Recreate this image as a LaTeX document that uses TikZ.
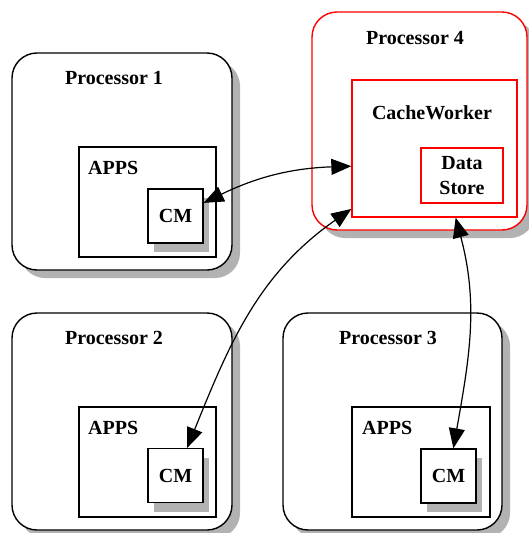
\documentclass[tikz,border=0pt]{standalone}
\usepackage{fontspec}
\setmainfont{Liberation Serif}
\usetikzlibrary{shadows,arrows.meta}
\begin{document}
\begin{tikzpicture}[x=1pt,y=-1pt,
  proc/.style={draw=black, line width=1.4pt, fill=white, rounded corners=25pt,
    drop shadow={shadow xshift=8pt, shadow yshift=-8pt, fill=black!30, opacity=1},
    inner sep=0pt, minimum width=220pt, minimum height=217pt},
  proc4/.style={proc, draw=red},
  apps/.style={draw=black, line width=1.3pt, fill=white, inner sep=0pt,
    minimum width=137pt, minimum height=110pt},
  cmbox/.style={draw=black, line width=1.3pt, fill=white, inner sep=0pt,
    minimum width=55pt, minimum height=54pt,
    drop shadow={shadow xshift=6pt, shadow yshift=-9pt, fill=black!30, opacity=1},
    font=\fontsize{20}{23}\selectfont\bfseries},
  redbox/.style={draw=red, line width=1.3pt, fill=white, inner sep=0pt},
  lbl/.style={font=\fontsize{20}{23}\selectfont\bfseries, inner sep=0pt},
  link/.style={line width=1.2pt, {Triangle[length=20pt,width=16pt]}-{Triangle[length=20pt,width=16pt]}}
]
\useasboundingbox (0,0) rectangle (528,533);
\fill[white] (0,0) rectangle (528,533);

% processors
\node[proc] (p1) at (122,161.5) {};
\node[proc] (p2) at (122,421.5) {};
\node[proc, minimum width=219pt] (p3) at (392.5,421.5) {};
\node[proc4, minimum width=215pt, minimum height=218pt] (p4) at (419.5,121) {};

\node[lbl] (t1) at (114,78) {Processor 1};
\node[lbl] (t2) at (114,338) {Processor 2};
\node[lbl] (t3) at (388,338) {Processor 3};
\node[lbl] (t4) at (415,38) {Processor 4};

% apps boxes
\node[apps] (a1) at (147.5,202) {};
\node[apps] (a2) at (147.5,462) {};
\node[apps, minimum width=138pt] (a3) at (421,462) {};
\node[lbl, anchor=west] (at1) at (88,168) {APPS};
\node[lbl, anchor=west] (at2) at (88,428) {APPS};
\node[lbl, anchor=west] (at3) at (362,428) {APPS};

% CM boxes
\node[cmbox] (cm1) at (175.5,216) {CM};
\node[cmbox] (cm2) at (175.5,475.5) {CM};
\node[cmbox] (cm3) at (448.5,476) {CM};

% cache worker
\node[redbox, minimum width=165pt, minimum height=137pt] (cw) at (434.5,148.5) {};
\node[lbl] (cwt) at (432,113) {CacheWorker};
\node[redbox, minimum width=82pt, minimum height=55pt, align=center,
  font=\fontsize{20}{25}\selectfont\bfseries] (ds) at (462,175.5) {Data\\Store};

% links
\draw[link] (cm1.25) to[bend left=12] (cw.192);
\draw[link] (cw.216) to[out=215,in=68] (cm2.67);
\draw[link] (cw.-73) to[out=-75,in=80] (cm3.80);
\end{tikzpicture}
\end{document}
